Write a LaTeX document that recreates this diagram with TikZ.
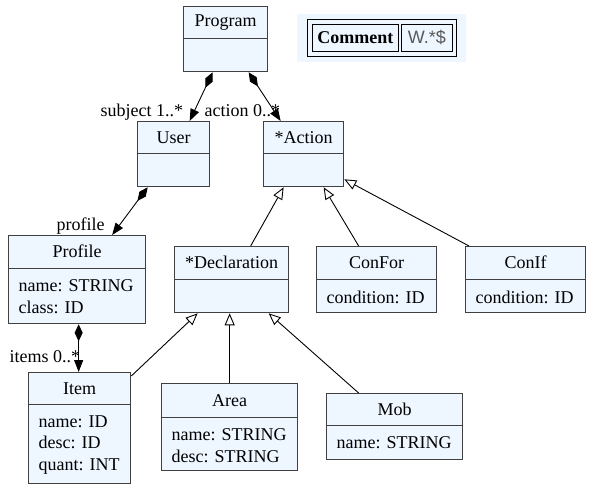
\documentclass[tikz,border=0pt]{standalone}
\usepackage{fontspec}
\setmainfont{Liberation Serif}
\setsansfont{Liberation Sans}
\usepackage{xcolor}
\usepackage{tikz}
\usetikzlibrary{arrows.meta}
\definecolor{boxfill}{HTML}{EEF6FF}
\definecolor{boxline}{HTML}{404040}

% one class box: name, x, y (top left), width, head height, body height, title, attributes
\newcommand{\umlclass}[8]{%
  \node[classbox, minimum width=#4, minimum height=#5+#6] (#1) at (#2,#3) {};
  \node[headbox, minimum width=#4, minimum height=#5] (#1-head) at (#1.north) {#7};
  \draw[divider] (#1-head.south west) -- (#1-head.south east);
  \node[attrs] (#1-attrs) at (#1-head.south west) {#8};
}

\begin{document}
\begin{tikzpicture}[
  x=1pt,
  y=-1pt,
  every node/.style={font=\fontsize{18}{21.5}\selectfont},
  classbox/.style={draw=boxline, line width=1.3pt, fill=boxfill, anchor=north west, inner sep=0pt},
  headbox/.style={anchor=north, inner sep=0pt},
  attrs/.style={anchor=north west, align=left, inner xsep=10pt, inner ysep=11pt},
  divider/.style={draw=boxline, line width=1.3pt},
  compo/.style={draw=black, line width=0.9pt, {Diamond[length=17pt,width=8pt]}-{Triangle[length=12pt,width=9pt]}},
  inherit/.style={draw=black, line width=0.9pt, -{Triangle[open,length=12pt,width=10pt,fill=white]}},
  rolelabel/.style={anchor=base east, inner sep=0pt},
  cellbox/.style={draw=black, line width=0.8pt, anchor=north west, inner sep=0pt}
]
\useasboundingbox (0,0) rectangle (589,487);

% comment table
\path[fill=boxfill] (297,14) rectangle (466,62);
\node[cellbox, minimum width=149, minimum height=37] (comment) at (307,19) {};
\node[cellbox, minimum width=86, minimum height=27, font=\fontsize{18}{21.5}\selectfont\bfseries] (commentkey) at (312,24) {Comment};
\node[cellbox, minimum width=51, minimum height=27] (commentval) at (401,24) {\textcolor{black!65}{\sffamily W.*\$}};

% classes
\umlclass{program}{183}{6}{84}{32}{33}{Program}{}
\umlclass{user}{137}{121}{72}{32}{33}{User}{}
\umlclass{action}{263}{121}{80}{32}{33}{*Action}{}
\umlclass{profile}{8}{235}{137}{33}{55}{Profile}{name: STRING\\class: ID}
\umlclass{declaration}{174}{246}{114}{33}{33}{*Declaration}{}
\umlclass{confor}{316}{246}{120}{33}{33}{ConFor}{condition: ID}
\umlclass{conif}{465}{246}{120}{33}{33}{ConIf}{condition: ID}
\umlclass{item}{28}{372}{102}{32}{79}{Item}{name: ID\\desc: ID\\quant: INT}
\umlclass{area}{161}{383}{136}{34}{53}{Area}{name: STRING\\desc: STRING}
\umlclass{mob}{326}{393}{136}{32}{34}{Mob}{name: STRING}

% composition
\draw[compo] ([xshift=-13pt]program.south) -- ([xshift=16pt]user.north)
  node[rolelabel, at end, xshift=-6pt, yshift=5pt] {subject 1..*};
\draw[compo] ([xshift=23pt]program.south) -- ([xshift=-23pt]action.north)
  node[rolelabel, at end, yshift=5pt] {action 0..*};
\draw[compo] ([xshift=-26pt]user.south) -- ([xshift=35pt]profile.north)
  node[rolelabel, at end, xshift=-7pt, yshift=5pt] {profile};
\draw[compo] ([xshift=1.5pt]profile.south) -- ([xshift=-1pt]item.north)
  node[rolelabel, at end, xshift=2pt, yshift=10pt] {items 0..*};

% generalization
\draw[inherit] ([xshift=19pt]declaration.north) -- ([xshift=-20pt]action.south);
\draw[inherit] ([xshift=-18pt]confor.north) -- ([xshift=20pt]action.south);
\draw[inherit] ([xshift=4pt]conif.north west) -- ([yshift=8pt]action.south east);
\draw[inherit] ([yshift=-4pt]item.north east) -- ([xshift=-34pt]declaration.south);
\draw[inherit] (area.north) -- ([xshift=-2pt]declaration.south);
\draw[inherit] ([xshift=-36pt]mob.north) -- ([xshift=37pt]declaration.south);
\end{tikzpicture}
\end{document}
